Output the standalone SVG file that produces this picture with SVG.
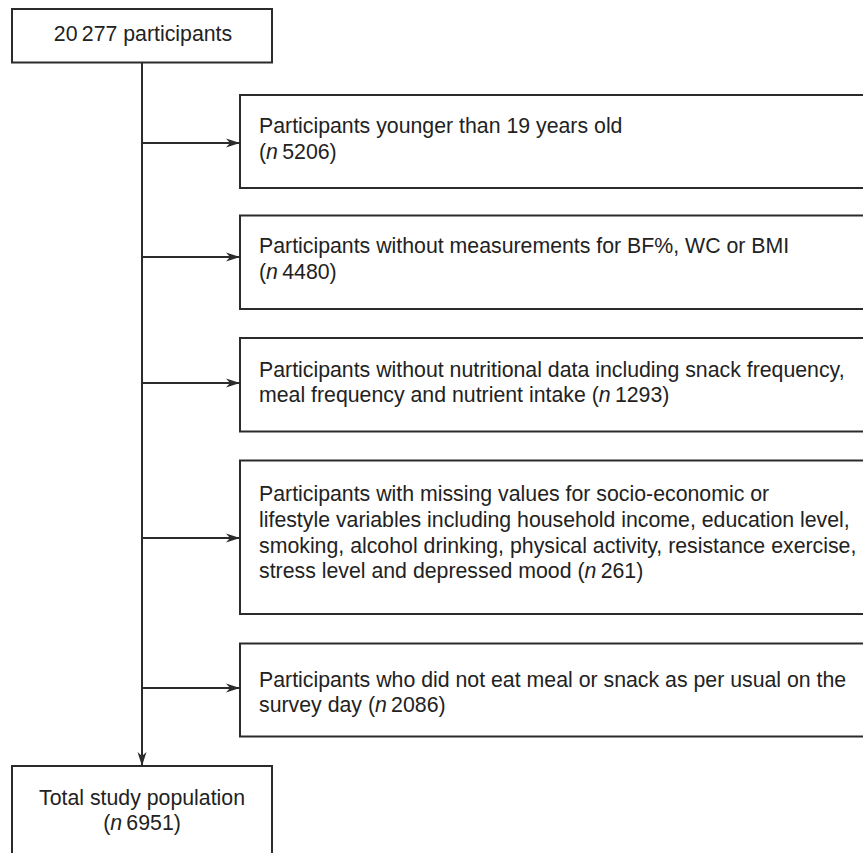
<svg xmlns="http://www.w3.org/2000/svg" width="863" height="853" viewBox="0 0 863 853">
<defs>
<style>
.box{fill:#fff;stroke:#2b2b2b;stroke-width:2}
.t{font-family:"Liberation Sans",Arial,Helvetica,sans-serif;font-size:21.3px;fill:#222}
.c{text-anchor:middle}
.conn{stroke:#2b2b2b;stroke-width:2;fill:none}
.i{font-style:italic}
</style>
<marker id="ah" viewBox="0 0 14 10" refX="13" refY="5" markerWidth="14" markerHeight="10" markerUnits="userSpaceOnUse" orient="auto">
<path d="M0,0.5 L14,5 L0,9.5 L4,5 z" fill="#2b2b2b"/>
</marker>
</defs>
<rect width="863" height="853" fill="#fff"/>
<g id="connectors">
<line class="conn" x1="142" y1="63" x2="142" y2="765" marker-end="url(#ah)"/>
<line class="conn" x1="142" y1="143" x2="239" y2="143" marker-end="url(#ah)"/>
<line class="conn" x1="142" y1="257" x2="239" y2="257" marker-end="url(#ah)"/>
<line class="conn" x1="142" y1="383" x2="239" y2="383" marker-end="url(#ah)"/>
<line class="conn" x1="142" y1="538" x2="239" y2="538" marker-end="url(#ah)"/>
<line class="conn" x1="142" y1="688" x2="239" y2="688" marker-end="url(#ah)"/>
</g>
<g id="start">
<rect class="box" x="12" y="9" width="260" height="53.5"/>
<text class="t c" x="143" y="41">20&#8201;277 participants</text>
</g>
<g id="excl1">
<rect class="box" x="240" y="95" width="640" height="93"/>
<text class="t" x="259" y="132.5">Participants younger than 19 years old</text>
<text class="t" x="259" y="158.5">(<tspan class="i">n</tspan>&#8201;5206)</text>
</g>
<g id="excl2">
<rect class="box" x="240" y="215.5" width="640" height="93.5"/>
<text class="t" x="259" y="252.5">Participants without measurements for BF%, WC or BMI</text>
<text class="t" x="259" y="278.5">(<tspan class="i">n</tspan>&#8201;4480)</text>
</g>
<g id="excl3">
<rect class="box" x="240" y="338" width="640" height="93.5"/>
<text class="t" x="259" y="376.5">Participants without nutritional data including snack frequency,</text>
<text class="t" x="259" y="401.5">meal frequency and nutrient intake (<tspan class="i">n</tspan>&#8201;1293)</text>
</g>
<g id="excl4">
<rect class="box" x="240" y="460.5" width="640" height="153.5"/>
<text class="t" x="259" y="500.5">Participants with missing values for socio-economic or</text>
<text class="t" x="259" y="526.5">lifestyle variables including household income, education level,</text>
<text class="t" x="259" y="552.5">smoking, alcohol drinking, physical activity, resistance exercise,</text>
<text class="t" x="259" y="577.5">stress level and depressed mood (<tspan class="i">n</tspan>&#8201;261)</text>
</g>
<g id="excl5">
<rect class="box" x="240" y="643.5" width="640" height="93"/>
<text class="t" x="259" y="686.5">Participants who did not eat meal or snack as per usual on the</text>
<text class="t" x="259" y="711.5">survey day (<tspan class="i">n</tspan>&#8201;2086)</text>
</g>
<g id="total">
<rect class="box" x="12" y="766" width="260" height="110"/>
<text class="t c" x="142" y="805">Total study population</text>
<text class="t c" x="142" y="830">(<tspan class="i">n</tspan>&#8201;6951)</text>
</g>
</svg>
